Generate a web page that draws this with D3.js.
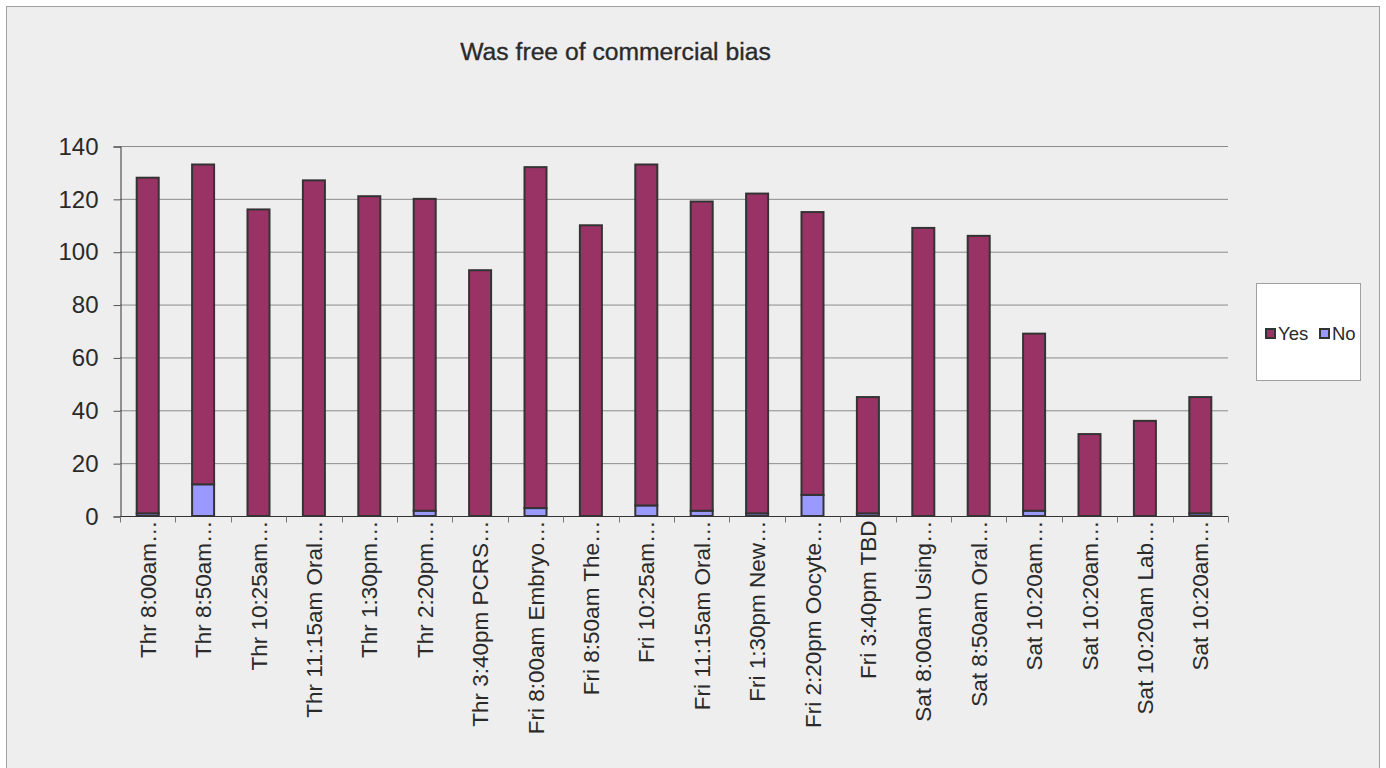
<!DOCTYPE html>
<html lang="en">
<head>
<meta charset="UTF-8">
<title>Was free of commercial bias</title>
<script src="https://cdn.jsdelivr.net/npm/d3@7"></script>
<style>
  html, body { margin: 0; padding: 0; background: #fff; }
  svg { display: block; font-family: "Liberation Sans", Arial, sans-serif; }
</style>
</head>
<body>
<svg id="chart" width="1386" height="768"></svg>
<script>
const sessions = [
  "Thr 8:00am…", "Thr 8:50am…", "Thr 10:25am…", "Thr 11:15am Oral…",
  "Thr 1:30pm…", "Thr 2:20pm…", "Thr 3:40pm PCRS…", "Fri 8:00am Embryo…",
  "Fri 8:50am The…", "Fri 10:25am…", "Fri 11:15am Oral…", "Fri 1:30pm New…",
  "Fri 2:20pm Oocyte…", "Fri 3:40pm TBD", "Sat 8:00am Using…", "Sat 8:50am Oral…",
  "Sat 10:20am…", "Sat 10:20am…", "Sat 10:20am Lab…", "Sat 10:20am…"
];
const yesVotes = [127, 121, 116, 127, 121, 118, 93, 129, 110, 129, 117, 121, 107, 44, 109, 106, 67, 31, 36, 44];
const noVotes  = [1, 12, 0, 0, 0, 2, 0, 3, 0, 4, 2, 1, 8, 1, 0, 0, 2, 0, 0, 1];
const yTicks = [0, 20, 40, 60, 80, 100, 120, 140];
const seriesNames = ["Yes", "No"];
const seriesColors = { Yes: "#993366", No: "#9999ff" };

const svg = d3.select("#chart");
const W = 1386, H = 768;
const plot = { left: 120, right: 1228, top: 146, bottom: 516 };

svg.append("rect").attr("x", 0).attr("y", 0).attr("width", W).attr("height", H).attr("fill", "#fff");
svg.append("rect")
   .attr("x", 6.5).attr("y", 6.5).attr("width", 1373).attr("height", 775)
   .attr("fill", "#eeeeee").attr("stroke", "#a0a0a0");

svg.append("text")
   .attr("x", 615.5).attr("y", 60)
   .attr("text-anchor", "middle")
   .attr("font-size", 24.7)
   .attr("fill", "#2a2a2a").attr("stroke", "#2a2a2a").attr("stroke-width", 0.35)
   .text("Was free of commercial bias");

const x = d3.scaleBand().domain(d3.range(sessions.length)).range([plot.left, plot.right]).padding(0);
const y = d3.scaleLinear().domain([0, 140]).range([plot.bottom, plot.top]);

// gridlines
svg.append("g").selectAll("line")
   .data(yTicks.filter(d => d > 0))
   .join("line")
   .attr("x1", plot.left).attr("x2", plot.right)
   .attr("y1", d => y(d) + 0.5).attr("y2", d => y(d) + 0.5)
   .attr("stroke", "#8c8c8c").attr("stroke-width", 1);

// y axis
const yAxis = svg.append("g")
   .attr("transform", `translate(${plot.left + 0.5},0.5)`)
   .call(d3.axisLeft(y).tickValues(yTicks).tickSize(7).tickPadding(15));
yAxis.select(".domain").attr("stroke", "#333");
yAxis.selectAll(".tick line").attr("stroke", "#555");
yAxis.selectAll("text").attr("font-size", 24).attr("fill", "#2a2a2a")
     .attr("font-family", "Liberation Sans, Arial, sans-serif");

// stacked bars
const stackData = sessions.map((s, i) => ({ i, Yes: yesVotes[i], No: noVotes[i] }));
const stack = d3.stack().keys(["No", "Yes"])(stackData);
const barW = 22;

svg.append("g").selectAll("g")
   .data(stack)
   .join("g")
   .attr("fill", d => seriesColors[d.key])
   .selectAll("rect")
   .data(d => d)
   .join("rect")
   .attr("x", d => x(d.data.i) + x.bandwidth() / 2 - barW / 2)
   .attr("y", d => y(d[1]))
   .attr("width", barW)
   .attr("height", d => Math.max(0, y(d[0]) - y(d[1])))
   .attr("stroke", "#333").attr("stroke-width", 2);

// x axis
const xAxis = svg.append("g")
   .attr("transform", `translate(0,${plot.bottom + 0.5})`);
xAxis.append("line")
   .attr("x1", plot.left).attr("x2", plot.right)
   .attr("stroke", "#333");
xAxis.selectAll(".xtick")
   .data(d3.range(sessions.length + 1))
   .join("line")
   .attr("x1", i => Math.round(plot.left + i * x.step()) + 0.5)
   .attr("x2", i => Math.round(plot.left + i * x.step()) + 0.5)
   .attr("y1", 0).attr("y2", 6)
   .attr("stroke", "#777");
xAxis.selectAll(".xlabel")
   .data(sessions)
   .join("text")
   .attr("transform", (d, i) => `translate(${x(i) + x.bandwidth() / 2 + 8},4) rotate(-90)`)
   .attr("text-anchor", "end")
   .attr("font-size", 22.5)
   .attr("fill", "#2a2a2a")
   .text(d => d);

// legend
const legend = svg.append("g").attr("transform", "translate(1256,283)");
legend.append("rect").attr("x", 0.5).attr("y", 0.5).attr("width", 104).attr("height", 97)
      .attr("fill", "#fff").attr("stroke", "#a0a0a0");
const legendX = [10, 64];
seriesNames.forEach((name, k) => {
  legend.append("rect")
        .attr("x", legendX[k]).attr("y", 46).attr("width", 9).attr("height", 9)
        .attr("fill", seriesColors[name]).attr("stroke", "#333").attr("stroke-width", 2);
  legend.append("text")
        .attr("x", legendX[k] + 12).attr("y", 57)
        .attr("font-size", 18.5).attr("fill", "#2a2a2a")
        .text(name);
});
</script>
</body>
</html>
